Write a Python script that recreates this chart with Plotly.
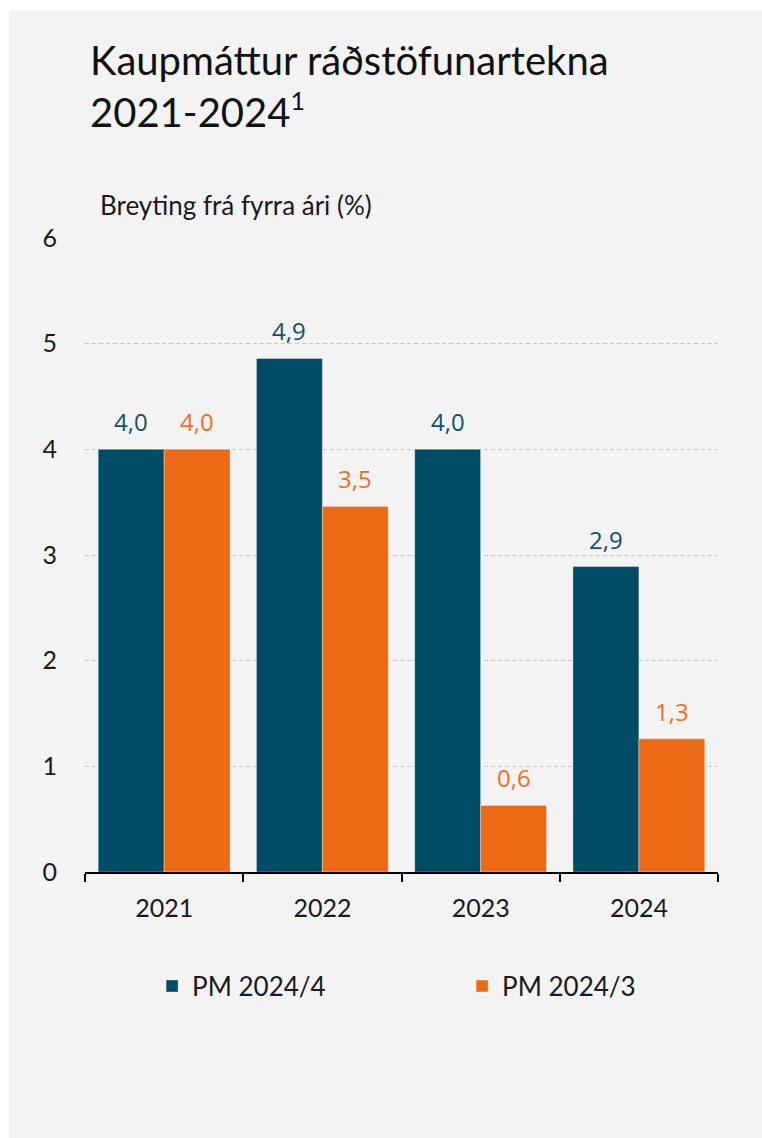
import plotly.graph_objects as go

years = ["2021", "2022", "2023", "2024"]
pm_2024_4 = [4.0, 4.86, 4.0, 2.89]
pm_2024_3 = [4.0, 3.46, 0.63, 1.26]
series_names = ["PM 2024/4", "PM 2024/3"]
y_ticks = [0, 1, 2, 3, 4, 5, 6]

blue = "#004b66"
orange = "#ec6a15"
blue_txt = "#12506f"
orange_txt = "#ee701f"
font = "Lato, 'Open Sans', sans-serif"

fig = go.Figure()
fig.add_trace(go.Bar(x=years, y=pm_2024_4, name=series_names[0], legendwidth=265,
                     marker=dict(color=blue, line=dict(color="rgba(255,255,255,0.35)", width=1))))
fig.add_trace(go.Bar(x=years, y=pm_2024_3, name=series_names[1], legendwidth=150,
                     marker=dict(color=orange, line=dict(color="rgba(255,255,255,0.35)", width=1))))


def lbl(v):
    return "{:.1f}".format(v + 1e-9).replace(".", ",")


annos = []
for vals, shift, col in [(pm_2024_4, -33, blue_txt), (pm_2024_3, 33, orange_txt)]:
    # category axis: annotations placed by category index
    for i, v in enumerate(vals):
        annos.append(dict(x=i, y=v, xref="x", yref="y", text=lbl(v), showarrow=False,
                          xshift=shift, yshift=9, yanchor="bottom",
                          font=dict(family="'Open Sans', sans-serif", size=24, color=col)))

# y axis caption
annos.append(dict(x=0.0205, y=1.052, xref="paper", yref="paper", xanchor="left", yanchor="middle",
                  text="Breyting frá fyrra ári (%)", showarrow=False,
                  font=dict(family=font, size=26, color="#1a1a1a")))

fig.update_layout(
    width=762, height=1138,
    margin=dict(l=85, r=44, t=238, b=266),
    paper_bgcolor="#f3f3f3", plot_bgcolor="#f3f3f3",
    bargap=0.167, bargroupgap=0,
    title=dict(text="Kaupmáttur ráðstöfunartekna<br>2021-2024<sup><span style='font-size:25px'>1</span></sup>",
               x=90 / 762, xanchor="left", xref="container",
               y=1 - 75 / 1138, yanchor="top", yref="container",
               font=dict(family=font, size=40, color="#111111")),
    font=dict(family=font, size=25, color="#1a1a1a"),
    showlegend=True,
    legend=dict(orientation="h", x=0.106, xanchor="left", y=-0.18, yanchor="middle",
                font=dict(family=font, size=26, color="#1a1a1a"),
                bgcolor="rgba(0,0,0,0)"),
    annotations=annos,
    shapes=[
        dict(type="rect", xref="paper", yref="paper", x0=-0.3, x1=1.3, y0=(872 - 11) / 634, y1=1.6,
             fillcolor="white", line=dict(width=0), layer="below"),
        dict(type="rect", xref="paper", yref="paper", x0=-0.3, x1=(9 - 85) / 633, y0=-0.6, y1=1.6,
             fillcolor="white", line=dict(width=0), layer="below"),
    ],
)

fig.update_xaxes(type="category", showline=True, linecolor="#000000", linewidth=1.5,
                 ticks="outside", tickson="boundaries", ticklen=8, tickcolor="#000000", tickwidth=1.5,
                 showgrid=False, tickfont=dict(size=25), ticklabelstandoff=13, tickangle=0)
fig.update_yaxes(range=[0, 6], tickvals=y_ticks, showgrid=True, gridcolor="#c8c8c8", gridwidth=1,
                 griddash="4px,3px", zeroline=False, showline=False, ticks="",
                 tickfont=dict(size=25), ticklabelstandoff=27)

fig.write_html("out.html", config={"displayModeBar": False},
               post_script="document.body.style.margin='0';document.body.style.overflow='hidden';")
